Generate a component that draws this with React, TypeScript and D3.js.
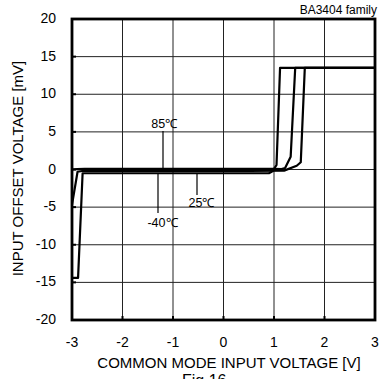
import React from "react";
import * as d3 from "d3";

const xTicks = [-3, -2, -1, 0, 1, 2, 3];
const yTicks = [-20, -15, -10, -5, 0, 5, 10, 15, 20];

// 85°C
const t85X = [-3, -2.9, -2.75, 0.5, 1.0, 1.15, 1.22, 1.33, 1.42, 3];
const t85Y = [0.0, 0.05, 0.08, 0.08, 0.08, 0.05, 0.2, 1.7, 13.5, 13.5];
// 25°C
const t25X = [-3, -2.89, -2.8, 0.5, 1.2, 1.45, 1.53, 1.61, 3];
const t25Y = [-4.7, -0.3, -0.2, -0.2, -0.15, 0.5, 0.96, 13.5, 13.5];
// -40°C
const tm40X = [-2.98, -2.88, -2.79, -2.7, 0.5, 0.9, 0.97, 1.05, 1.12, 3];
const tm40Y = [-14.4, -14.4, -0.5, -0.5, -0.5, -0.5, -0.25, 0.6, 13.5, 13.5];

const seriesNames = ["85℃", "25℃", "-40℃"];

const W = 382;
const H = 379;
const left = 72;
const right = 375;
const top = 19;
const bottom = 320;

export default function App() {
  const x = d3.scaleLinear().domain([-3, 3]).range([left, right]);
  const y = d3.scaleLinear().domain([-20, 20]).range([bottom, top]);
  const line = d3
    .line<[number, number]>()
    .x((d) => x(d[0]))
    .y((d) => y(d[1]));
  const series = [
    t85X.map((v, i) => [v, t85Y[i]] as [number, number]),
    t25X.map((v, i) => [v, t25Y[i]] as [number, number]),
    tm40X.map((v, i) => [v, tm40Y[i]] as [number, number]),
  ];
  const font = "'Liberation Sans', Arial, sans-serif";
  return (
    <svg
      width={W}
      height={H}
      style={{ position: "absolute", left: 0, top: 0, background: "#fff" }}
      fontFamily={font}
    >
      {/* grid */}
      {xTicks.slice(1, -1).map((t) => (
        <line key={"gx" + t} x1={x(t)} x2={x(t)} y1={top} y2={bottom} stroke="#222" strokeWidth={1} />
      ))}
      {yTicks.slice(1, -1).map((t) => (
        <line key={"gy" + t} x1={left} x2={right} y1={y(t)} y2={y(t)} stroke="#222" strokeWidth={1} />
      ))}
      {/* tick marks */}
      {xTicks.slice(1, -1).map((t) => (
        <line key={"tx" + t} x1={x(t)} x2={x(t)} y1={bottom} y2={bottom - 4} stroke="#000" strokeWidth={2} />
      ))}
      {yTicks.slice(1, -1).map((t) => (
        <line key={"ty" + t} x1={left} x2={left + 4} y1={y(t)} y2={y(t)} stroke="#000" strokeWidth={2} />
      ))}
      {/* curves */}
      {series.map((s, i) => (
        <path key={i} d={line(s) || ""} fill="none" stroke="#000" strokeWidth={2.2} strokeLinejoin="round" />
      ))}
      {/* frame */}
      <rect x={left} y={top} width={right - left} height={bottom - top} fill="none" stroke="#000" strokeWidth={2.8} />
      {/* tick labels */}
      {yTicks.map((t) => (
        <text key={"ly" + t} x={56} y={y(t) + 4} textAnchor="end" fontSize={14} fill="#000">
          {t}
        </text>
      ))}
      {xTicks.map((t) => (
        <text key={"lx" + t} x={x(t)} y={347} textAnchor="middle" fontSize={14} fill="#000">
          {t}
        </text>
      ))}
      {/* axis titles */}
      <text x={229} y={368} textAnchor="middle" fontSize={15} fill="#000">
        COMMON MODE INPUT VOLTAGE [V]
      </text>
      <text
        transform={`translate(23, 168.5) rotate(-90)`}
        textAnchor="middle"
        fontSize={15}
        fill="#000"
      >
        INPUT OFFSET VOLTAGE [mV]
      </text>
      <text x={377} y={14} textAnchor="end" fontSize={12} fill="#000">
        BA3404 family
      </text>
      <text x={182} y={386} fontSize={16} fill="#000">
        Fig.16
      </text>
      {/* temperature annotations */}
      <line x1={163} x2={163} y1={131} y2={168} stroke="#000" strokeWidth={1.2} />
      <text x={164.3} y={128} textAnchor="middle" fontSize={12.5} fill="#000">
        {seriesNames[0]}
      </text>
      <line x1={197} x2={197} y1={174} y2={195} stroke="#000" strokeWidth={1.2} />
      <text x={201.5} y={207} textAnchor="middle" fontSize={12.5} fill="#000">
        {seriesNames[1]}
      </text>
      <line x1={158} x2={158} y1={173} y2={213} stroke="#000" strokeWidth={1.2} />
      <text x={162.5} y={227} textAnchor="middle" fontSize={12.5} fill="#000">
        {seriesNames[2]}
      </text>
    </svg>
  );
}
